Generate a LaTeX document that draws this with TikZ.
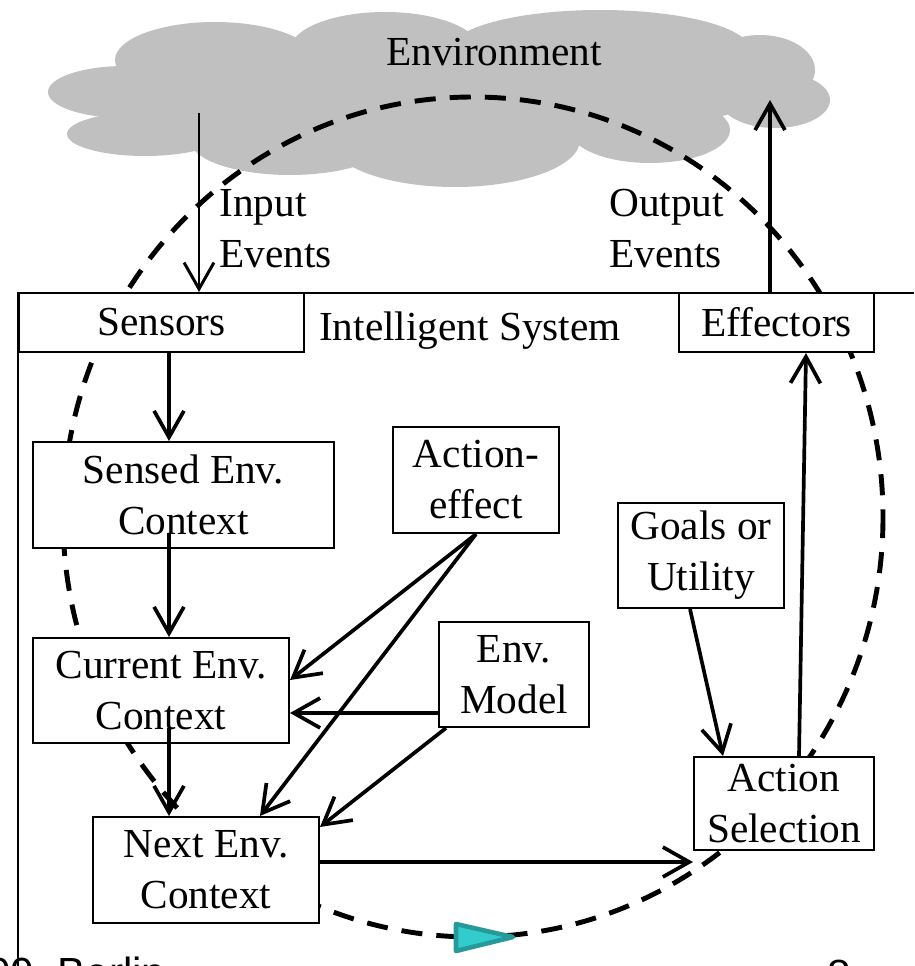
\documentclass[tikz,border=0pt]{standalone}
\usepackage{fontspec}
\setmainfont{Liberation Serif}
\newfontfamily\footfont{Liberation Sans}
\usetikzlibrary{arrows.meta}

\definecolor{cloudgray}{RGB}{192,192,192}
\definecolor{tipfill}{RGB}{51,204,204}
\definecolor{tipdraw}{RGB}{38,153,153}

\tikzset{
  box/.style={draw, fill=white, line width=1.2pt, align=center, inner sep=0pt,
    font=\fontsize{23.5}{29}\selectfont},
  lbl/.style={align=left, inner sep=0pt, font=\fontsize{23.5}{29}\selectfont},
  arr/.style={line width=2.1pt, -{Straight Barb[length=15pt,width=17pt]}},
  cycleline/.style={line width=2.8pt, dash pattern=on 12pt off 8pt},
}

\begin{document}
\begin{tikzpicture}[x=0.02cm,y=-0.02cm]
  \useasboundingbox (0,0) rectangle (914,966);
  % the cloud
  \foreach \cx/\cy/\rx/\ry in {125/92/77/26, 145/134/78/22, 215/60/100/38,
      385/50/95/38, 600/50/150/40, 760/70/55/35, 775/100/55/28,
      650/130/80/33, 455/140/125/47, 290/140/100/35, 440/90/330/50} {
    \fill[cloudgray] (\cx,\cy) ellipse [x radius=\rx, y radius=\ry];
  }
  \node[lbl, anchor=base] (envtext) at (494,66) {Environment};

  % dashed loop and its direction
  \draw[cycleline] (473,517) ellipse [x radius=410, y radius=420];
  \filldraw[fill=tipfill, draw=tipdraw, line width=2.6pt, line join=round]
    (456,924) -- (456,951) -- (513,937) -- cycle;

  % system frame
  \draw[line width=1.3pt] (18,966) -- (18,293) -- (914,293);

  \node[box, minimum width=5.7cm, minimum height=1.18cm] (sensors) at (161.5,322.5) {Sensors};
  \node[box, minimum width=3.9cm, minimum height=1.18cm] (effectors) at (776.5,322.5) {Effectors};
  \node[lbl, anchor=base] (system) at (470,340) {Intelligent System};
  \node[box, minimum width=6.02cm, minimum height=2.12cm] (sensed) at (183.5,495) {Sensed Env.\\Context};
  \node[box, minimum width=5.12cm, minimum height=2.1cm] (current) at (161,690.5) {Current Env.\\Context};
  \node[box, minimum width=4.52cm, minimum height=2.12cm] (next) at (206,870) {Next Env.\\Context};
  \node[box, minimum width=3.32cm, minimum height=2.12cm] (acteff) at (476,480) {Action-\\effect};
  \node[box, minimum width=3.0cm, minimum height=2.1cm] (envmodel) at (514,674.5) {Env.\\Model};
  \node[box, minimum width=3.32cm, minimum height=2.1cm] (goals) at (701,555.5) {Goals or\\Utility};
  \node[box, minimum width=3.6cm, minimum height=1.86cm] (actsel) at (784,803.5) {Action\\Selection};

  \node[lbl, anchor=west] (inlbl) at (219,229) {Input\\Events};
  \node[lbl, anchor=west] (outlbl) at (609,229) {Output\\Events};

  \coordinate (insrc) at (199,113);
  \coordinate (outtip) at (770,100);
  \draw[arr, line width=1.7pt] (insrc) -- (insrc |- sensors.north);
  \draw[arr] (outtip |- effectors.north) -- (outtip);

  \draw[arr] ([xshift=0.15cm]sensors.south) -- ([xshift=0.15cm]sensors.south |- sensed.north);
  \draw[arr] ([xshift=-0.29cm,yshift=0.3cm]sensed.south) -- ([xshift=-0.29cm]sensed.south |- current.north);
  \draw[arr] ([xshift=0.16cm,yshift=0.32cm]current.south) -- ([xshift=0.16cm]current.south |- next.north);
  \draw[arr] (acteff.south) -- ([yshift=0.21cm]current.east);
  \draw[arr] (acteff.south) -- ([xshift=1.08cm]next.north);
  \draw[arr] ([yshift=-0.77cm]envmodel.west) -- ([yshift=-0.77cm]envmodel.west -| current.east);
  \draw[arr] ([xshift=0.16cm]envmodel.south west) -- ([yshift=-0.22cm]next.north east);
  \draw[arr] ([xshift=-0.22cm]goals.south) -- ([xshift=-1.22cm]actsel.north);
  \draw[arr] ([xshift=0.3cm]actsel.north) -- ([xshift=0.59cm]effectors.south);
  \draw[arr] ([yshift=0.16cm]next.east) -- ([yshift=0.16cm]next.east -| actsel.west);

  % footer, cut by the page edge
  \begin{scope}
    \clip (0,0) rectangle (914,966);
    \node[inner sep=0pt, anchor=base west, font=\footfont\fontsize{24}{29}\selectfont]
      (place) at (-13,987) {00, Berlin};
    \node[inner sep=0pt, anchor=base, font=\footfont\fontsize{24}{29}\selectfont]
      (pagenum) at (839,989) {8};
  \end{scope}
\end{tikzpicture}
\end{document}
